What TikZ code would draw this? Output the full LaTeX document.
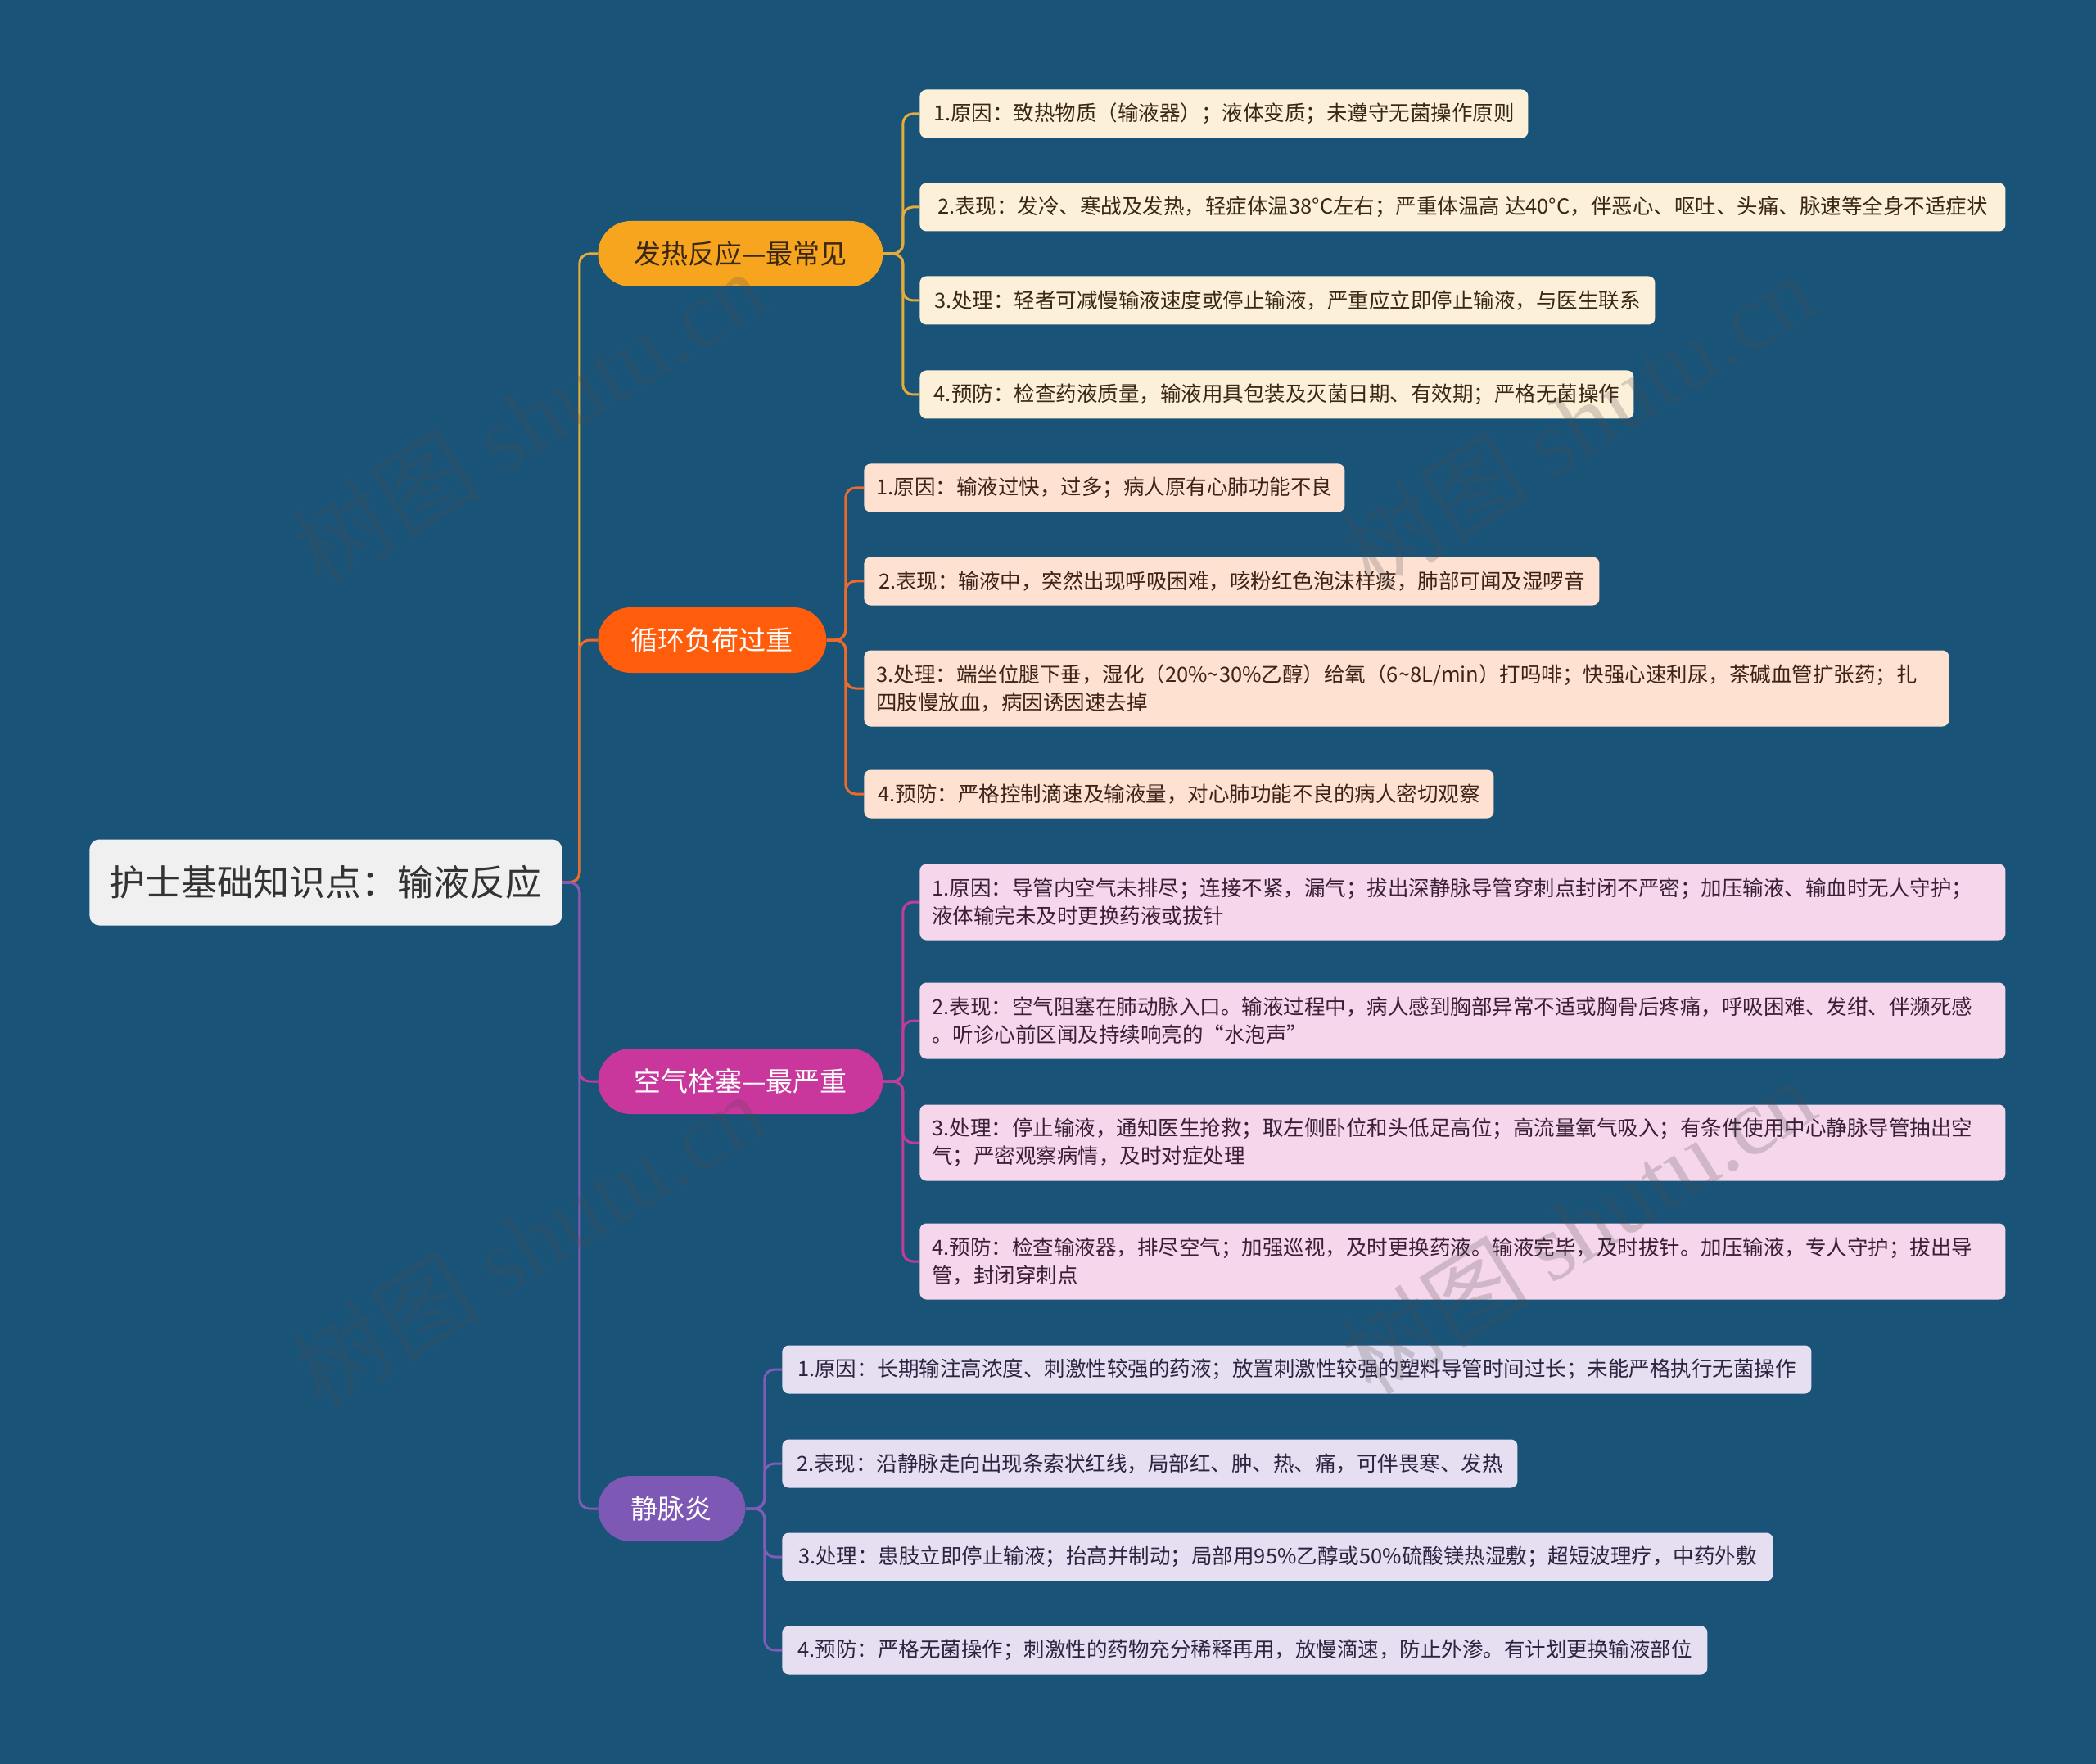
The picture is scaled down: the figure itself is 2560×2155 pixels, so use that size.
\documentclass[tikz,border=0pt]{standalone}
\usepackage{fontspec}
\setmainfont{Noto Sans CJK SC}
\newfontfamily\wmlatin{Liberation Serif}
\definecolor{bgc}{HTML}{1A5378}
\definecolor{rootfill}{HTML}{F0F0F0}
\definecolor{roottext}{HTML}{333333}
\definecolor{feverc}{HTML}{F7A51E}
\definecolor{feverl}{HTML}{E6AC3A}
\definecolor{feverleaf}{HTML}{FDF0D9}
\definecolor{fevertext}{HTML}{3A2812}
\definecolor{circc}{HTML}{FF5D0B}
\definecolor{circl}{HTML}{EC6A2A}
\definecolor{circleaf}{HTML}{FEE1D1}
\definecolor{circtext}{HTML}{3C2418}
\definecolor{airc}{HTML}{C9369C}
\definecolor{airl}{HTML}{C23C99}
\definecolor{airleaf}{HTML}{F5D6EB}
\definecolor{airtext}{HTML}{3A2035}
\definecolor{veinc}{HTML}{7E58B5}
\definecolor{veinl}{HTML}{7E5CB8}
\definecolor{veinleaf}{HTML}{E6DFF1}
\definecolor{veintext}{HTML}{2C2440}
\pgfdeclarelayer{back}
\pgfsetlayers{back,main}
\begin{document}
\begin{tikzpicture}[x=0.5pt,y=-0.5pt,
  leaf/.style={anchor=west, rounded corners=4pt, inner xsep=7.5pt, inner ysep=0pt, align=left, minimum height=29.5pt, font=\fontsize{12.75pt}{17pt}\selectfont},
  leaftwo/.style={leaf, minimum height=46.5pt},
  fleaf/.style={leaf, fill=feverleaf, text=fevertext},
  cleaf/.style={leaf, fill=circleaf, text=circtext},
  aleaf/.style={leaftwo, fill=airleaf, text=airtext, text width=648pt},
  vleaf/.style={leaf, fill=veinleaf, text=veintext},
  branchbox/.style={anchor=west, rounded corners=20pt, minimum height=40pt, inner sep=0pt, font=\fontsize{16.5pt}{20pt}\selectfont},
  conn/.style={line width=1.5pt, rounded corners=6pt},
  wm/.style={rotate=32, text=black!70, opacity=0.22, font=\fontsize{58pt}{60pt}\selectfont}
]
\begin{pgfonlayer}{back}
\fill[bgc] (0,0) rectangle (2560,2155);
\end{pgfonlayer}
\useasboundingbox (0,0) rectangle (2560,2155);

% root
\node[anchor=west, fill=rootfill, text=roottext, rounded corners=6pt, minimum width=288.5pt, minimum height=52.5pt, inner sep=0pt, font=\fontsize{22pt}{26pt}\selectfont] (root) at (109,1078) {护士基础知识点：输液反应};

% branches
\node[branchbox, fill=feverc, text=fevertext, minimum width=174pt] (b1) at (730,310) {发热反应—最常见};
\node[branchbox, fill=circc, text=white, minimum width=139.5pt] (b2) at (730,782) {循环负荷过重};
\node[branchbox, fill=airc, text=white, minimum width=174pt] (b3) at (730,1321) {空气栓塞—最严重};
\node[branchbox, fill=veinc, text=white, minimum width=90pt] (b4) at (730,1843) {静脉炎};

% fever leaves
\node[fleaf, minimum width=371.5pt] (f1) at (1123,139) {1.原因：致热物质（输液器）；液体变质；未遵守无菌操作原则};
\node[fleaf, minimum width=663pt] (f2) at (1123,253) {2.表现：发冷、寒战及发热，轻症体温38°C左右；严重体温高 达40°C，伴恶心、呕吐、头痛、脉速等全身不适症状};
\node[fleaf, minimum width=449pt] (f3) at (1123,367) {3.处理：轻者可减慢输液速度或停止输液，严重应立即停止输液，与医生联系};
\node[fleaf, minimum width=436pt] (f4) at (1123,482) {4.预防：检查药液质量，输液用具包装及灭菌日期、有效期；严格无菌操作};

% circulation leaves
\node[cleaf, minimum width=293.5pt] (c1) at (1055,596) {1.原因：输液过快，过多；病人原有心肺功能不良};
\node[cleaf, minimum width=449pt] (c2) at (1055,710) {2.表现：输液中，突然出现呼吸困难，咳粉红色泡沫样痰，肺部可闻及湿啰音};
\node[cleaf, text width=647.5pt, minimum height=46.5pt] (c3) at (1055,841) {3.处理：端坐位腿下垂，湿化（20\%\textasciitilde 30\%乙醇）给氧（6\textasciitilde 8L/min）打吗啡；快强心速利尿，茶碱血管扩张药；扎\\四肢慢放血，病因诱因速去掉};
\node[cleaf, minimum width=384.5pt] (c4) at (1055,970) {4.预防：严格控制滴速及输液量，对心肺功能不良的病人密切观察};

% air embolism leaves
\node[aleaf] (a1) at (1123,1102) {1.原因：导管内空气未排尽；连接不紧，漏气；拔出深静脉导管穿刺点封闭不严密；加压输液、输血时无人守护；\\液体输完未及时更换药液或拔针};
\node[aleaf] (a2) at (1123,1247) {2.表现：空气阻塞在肺动脉入口。输液过程中，病人感到胸部异常不适或胸骨后疼痛，呼吸困难、发绀、伴濒死感\\。听诊心前区闻及持续响亮的“水泡声”};
\node[aleaf] (a3) at (1123,1396) {3.处理：停止输液，通知医生抢救；取左侧卧位和头低足高位；高流量氧气吸入；有条件使用中心静脉导管抽出空\\气；严密观察病情，及时对症处理};
\node[aleaf] (a4) at (1123,1541) {4.预防：检查输液器，排尽空气；加强巡视，及时更换药液。输液完毕，及时拔针。加压输液，专人守护；拔出导\\管，封闭穿刺点};

% phlebitis leaves
\node[vleaf, minimum width=628.5pt] (v1) at (955,1673) {1.原因：长期输注高浓度、刺激性较强的药液；放置刺激性较强的塑料导管时间过长；未能严格执行无菌操作};
\node[vleaf, minimum width=449pt] (v2) at (955,1788) {2.表现：沿静脉走向出现条索状红线，局部红、肿、热、痛，可伴畏寒、发热};
\node[vleaf, minimum width=605pt] (v3) at (955,1902) {3.处理：患肢立即停止输液；抬高并制动；局部用95\%乙醇或50\%硫酸镁热湿敷；超短波理疗，中药外敷};
\node[vleaf, minimum width=565pt] (v4) at (955,2016) {4.预防：严格无菌操作；刺激性的药物充分稀释再用，放慢滴速，防止外渗。有计划更换输液部位};

% connectors
\begin{pgfonlayer}{back}
\draw[conn, feverl] (root.east) -- ++(21,0) |- (b1.west);
\draw[conn, circl] (root.east) -- ++(21,0) |- (b2.west);
\draw[conn, airl] (root.east) -- ++(21,0) |- (b3.west);
\draw[conn, veinl] (root.east) -- ++(21,0) |- (b4.west);
\foreach \n in {f1,f2,f3,f4} \draw[conn, feverl] (b1.east) -- ++(24,0) |- (\n.west);
\foreach \n in {c1,c2,c3,c4} \draw[conn, circl] (b2.east) -- ++(23,0) |- (\n.west);
\foreach \n in {a1,a2,a3,a4} \draw[conn, airl] (b3.east) -- ++(24,0) |- (\n.west);
\foreach \n in {v1,v2,v3,v4} \draw[conn, veinl] (b4.east) -- ++(23,0) |- (\n.west);
\end{pgfonlayer}

% watermarks
\node[wm] (w1) at (645,510) {树图 {\wmlatin shutu.cn}};
\node[wm] (w2) at (1927,514) {树图 {\wmlatin shutu.cn}};
\node[wm] (w3) at (645,1515) {树图 {\wmlatin shutu.cn}};
\node[wm] (w4) at (1927,1497) {树图 {\wmlatin shutu.cn}};
\end{tikzpicture}
\end{document}
